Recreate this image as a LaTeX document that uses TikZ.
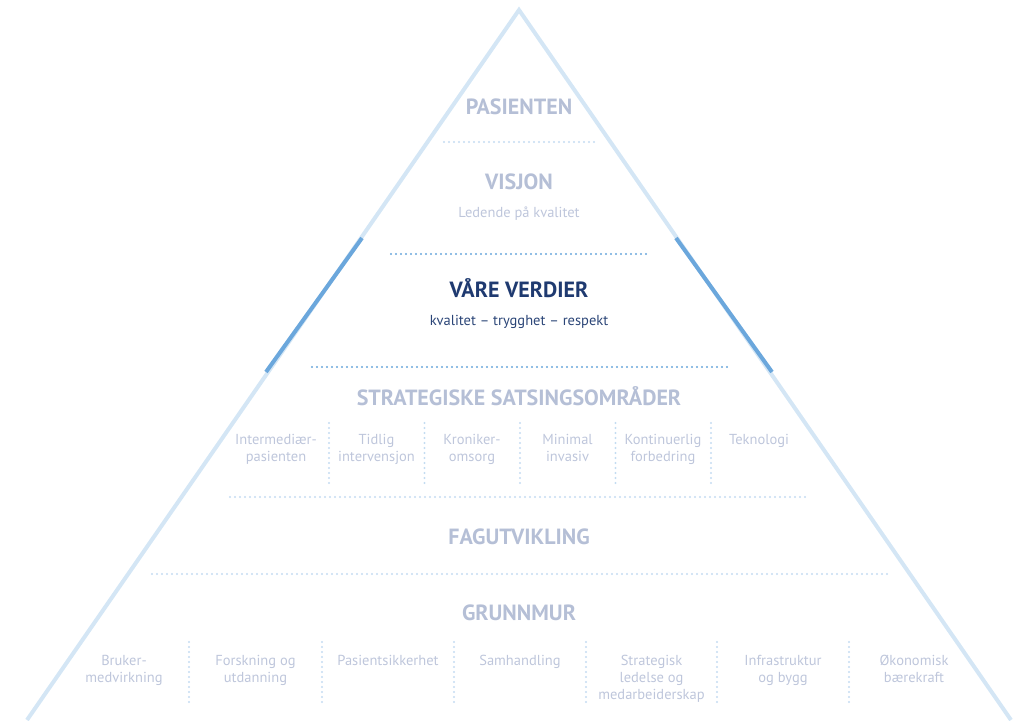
\documentclass[tikz,border=0pt]{standalone}
\usepackage{fontspec}
\setmainfont{PT Sans}
\definecolor{edgelight}{RGB}{212,230,245}
\definecolor{edgedark}{RGB}{107,167,220}
\definecolor{dotlight}{RGB}{196,220,241}
\definecolor{dotdark}{RGB}{107,167,220}
\definecolor{headgrey}{RGB}{181,191,214}
\definecolor{itemgrey}{RGB}{190,198,219}
\definecolor{navy}{RGB}{31,58,112}
\definecolor{navytext}{RGB}{43,69,119}
\tikzset{
  heading/.style={font=\fontsize{22}{24}\selectfont\bfseries, text=headgrey, inner sep=0pt},
  subline/.style={font=\fontsize{14.5}{17}\selectfont, text=itemgrey, inner sep=0pt},
  item/.style={font=\fontsize{14.5}{17}\selectfont, text=itemgrey, align=center, inner sep=0pt, anchor=north},
  dotsline/.style={line width=2.2pt, line cap=round, dash pattern=on 0pt off 5pt},
  edge/.style={line width=4pt, edgelight},
}
\begin{document}
\begin{tikzpicture}[x=1pt,y=-1pt]
\useasboundingbox (0,0) rectangle (1025,720);
\clip (0,0) rectangle (1025,720);
% triangle
\coordinate (apex) at (519,10);
\coordinate (bl) at (27,720);
\coordinate (br) at (1011,720);
\draw[edge, line join=miter] (bl) -- (apex) -- (br);
\coordinate (ld1) at (362,238);
\coordinate (ld2) at (266,372);
\coordinate (rd1) at (676,238);
\coordinate (rd2) at (772,372);
\draw[line width=4pt, edgedark] (ld1) -- (ld2);
\draw[line width=4pt, edgedark] (rd1) -- (rd2);
% horizontal dotted lines
\coordinate (h1a) at (444,142); \coordinate (h1b) at (597,142);
\coordinate (h2a) at (391,254); \coordinate (h2b) at (650,254);
\coordinate (h3a) at (312,367); \coordinate (h3b) at (727,367);
\coordinate (h4a) at (230,497); \coordinate (h4b) at (809,497);
\coordinate (h5a) at (152,574); \coordinate (h5b) at (887,574);
\draw[dotsline, dotlight] (h1a) -- (h1b);
\draw[dotsline, dotdark] (h2a) -- (h2b);
\draw[dotsline, dotdark] (h3a) -- (h3b);
\draw[dotsline, dotlight] (h4a) -- (h4b);
\draw[dotsline, dotlight] (h5a) -- (h5b);
% headings
\node[heading] (pas) at (519,107) {PASIENTEN};
\node[heading] (vis) at (519,182) {VISJON};
\node[subline] (led) at (519,214) {Ledende på kvalitet};
\node[heading, text=navy] (ver) at (519,288) {VÅRE VERDIER};
\node[subline, text=navytext] (kval) at (519,322) {kvalitet – trygghet – respekt};
\node[heading] (str) at (519,396) {STRATEGISKE SATSINGSOMRÅDER};
\node[heading] (fag) at (519,537) {FAGUTVIKLING};
\node[heading] (gru) at (519,613) {GRUNNMUR};
% strategic separators
\foreach \x [count=\i] in {329,424.5,520,615.5,711}{
  \coordinate (sa\i) at (\x,423);
  \coordinate (sb\i) at (\x,485);
  \draw[dotsline, dotlight] (sa\i) -- (sb\i);
}
\node[item] (s1) at (276,434) {Intermediær-\\pasienten};
\node[item] (s2) at (376.5,434) {Tidlig\\intervensjon};
\node[item] (s3) at (472,434) {Kroniker-\\omsorg};
\node[item] (s4) at (567.5,434) {Minimal\\invasiv};
\node[item] (s5) at (663,434) {Kontinuerlig\\forbedring};
\node[item] (s6) at (759,434) {Teknologi};
% grunnmur separators
\foreach \x [count=\i] in {189,322,454,586,717,849}{
  \coordinate (ga\i) at (\x,642);
  \coordinate (gb\i) at (\x,704);
  \draw[dotsline, dotlight] (ga\i) -- (gb\i);
}
\node[item] (g1) at (124,655) {Bruker-\\medvirkning};
\node[item] (g2) at (255.5,655) {Forskning og\\utdanning};
\node[item] (g3) at (388,655) {Pasientsikkerhet};
\node[item] (g4) at (520,655) {Samhandling};
\node[item] (g5) at (651.5,655) {Strategisk\\ledelse og\\medarbeiderskap};
\node[item] (g6) at (783,655) {Infrastruktur\\og bygg};
\node[item] (g7) at (914,655) {Økonomisk\\bærekraft};
\end{tikzpicture}
\end{document}
